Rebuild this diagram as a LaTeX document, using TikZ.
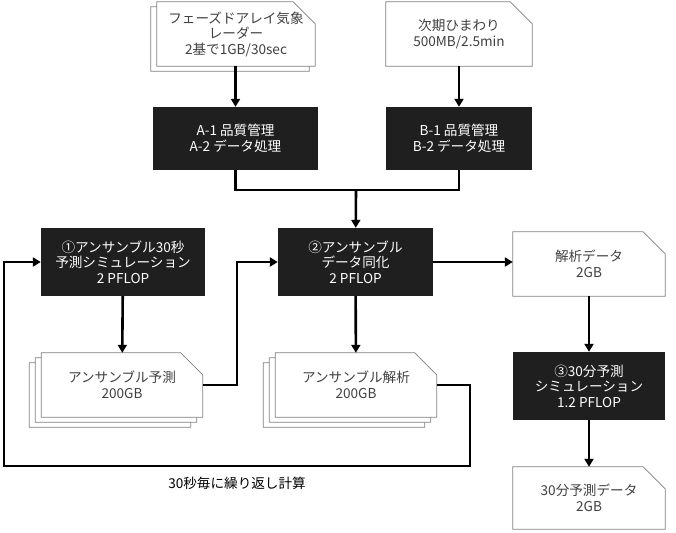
\documentclass[tikz,border=0pt]{standalone}
\usepackage{fontspec}
\setmainfont{Noto Sans CJK JP}
\usetikzlibrary{calc,backgrounds,arrows.meta}

\tikzset{
  blk/.style={fill=black!88, text=white, minimum width=#1, minimum height=66pt, align=center, inner sep=0pt},
  doc/.style={text=black!75, minimum width=#1, minimum height=64pt, align=center, inner sep=0pt},
  flow/.style={line width=2.6pt, -{Triangle[length=8pt,width=9pt]}},
  link/.style={line width=2.6pt}
}

% outline of a sheet with a cut corner, shifted by (#2,#3)
\newcommand\sheet[3]{%
  \filldraw[draw=black!50, fill=white, line width=0.8pt]
    ($(#1.south west)+(#2,#3)$) -- ($(#1.north west)+(#2,#3)$)
    -- ($(#1.north east)+(#2-22,#3)$) -- ($(#1.north east)+(#2,#3+22)$)
    -- ($(#1.south east)+(#2,#3)$) -- cycle;}

\begin{document}
\begin{tikzpicture}[x=1pt, y=-1pt, font=\fontsize{13.6}{15.5}\selectfont]
\useasboundingbox (0,0) rectangle (676,532);

% data sheets
\node[doc=158pt] (radar) at (236,34) {フェーズドアレイ気象\\レーダー\\2基で1GB/30sec};
\node[doc=146pt] (himawari) at (459,34) {次期ひまわり\\500MB/2.5min};
\node[doc=161pt] (fcst) at (122,385) {アンサンブル予測\\200GB};
\node[doc=161pt] (anal) at (356,385) {アンサンブル解析\\200GB};
\node[doc=152pt] (adata) at (589,264) {解析データ\\2GB};
\node[doc=152pt, minimum height=62pt] (rdata) at (589,498) {30分予測データ\\2GB};

\begin{scope}[on background layer]
\sheet{radar}{-6}{5}
\sheet{radar}{0}{0}
\sheet{himawari}{0}{0}
\sheet{fcst}{-12}{10}
\sheet{fcst}{-6}{5}
\sheet{fcst}{0}{0}
\sheet{anal}{-12}{10}
\sheet{anal}{-6}{5}
\sheet{anal}{0}{0}
\sheet{adata}{0}{0}
\sheet{rdata}{0}{0}
\end{scope}

% processing boxes
\node[blk=165pt, minimum height=63pt] (qca) at (235.5,138.5) {A-1 品質管理\\A-2 データ処理};
\node[blk=146pt, minimum height=63pt] (qcb) at (459,138.5) {B-1 品質管理\\B-2 データ処理};
\node[blk=164pt, minimum height=68pt] (sim30) at (123,262) {①アンサンブル30秒\\予測シミュレーション\\2 PFLOP};
\node[blk=155pt, minimum height=68pt] (assim) at (355.5,262) {②アンサンブル\\データ同化\\2 PFLOP};
\node[blk=152pt, minimum height=68pt] (sim3m) at (589,386) {③30分予測\\シミュレーション\\1.2 PFLOP};

\coordinate (join) at (356,190);
\coordinate (loop) at (4,466);

% connectors
\draw[flow] (radar.south -| qca) -- (qca);
\draw[flow] (himawari) -- (qcb);
\draw[link] (qca.south) |- (join) -| (qcb.south);
\draw[flow] (join) -- (assim);
\draw[flow] (sim30) -- (fcst);
\draw[flow] (fcst.east) -| (237,262) -- (assim.west);
\draw[flow] (assim) -- (anal);
\draw[flow] (assim.east) -- (adata.west |- assim.east);
\draw[flow] (anal.east) -| (470,466) -- (loop) |- (sim30.west);
\draw[flow] (adata) -- (sim3m);
\draw[flow] (sim3m) -- (rdata);

\node (repeat) at (237,483) {30秒毎に繰り返し計算};
\end{tikzpicture}
\end{document}
